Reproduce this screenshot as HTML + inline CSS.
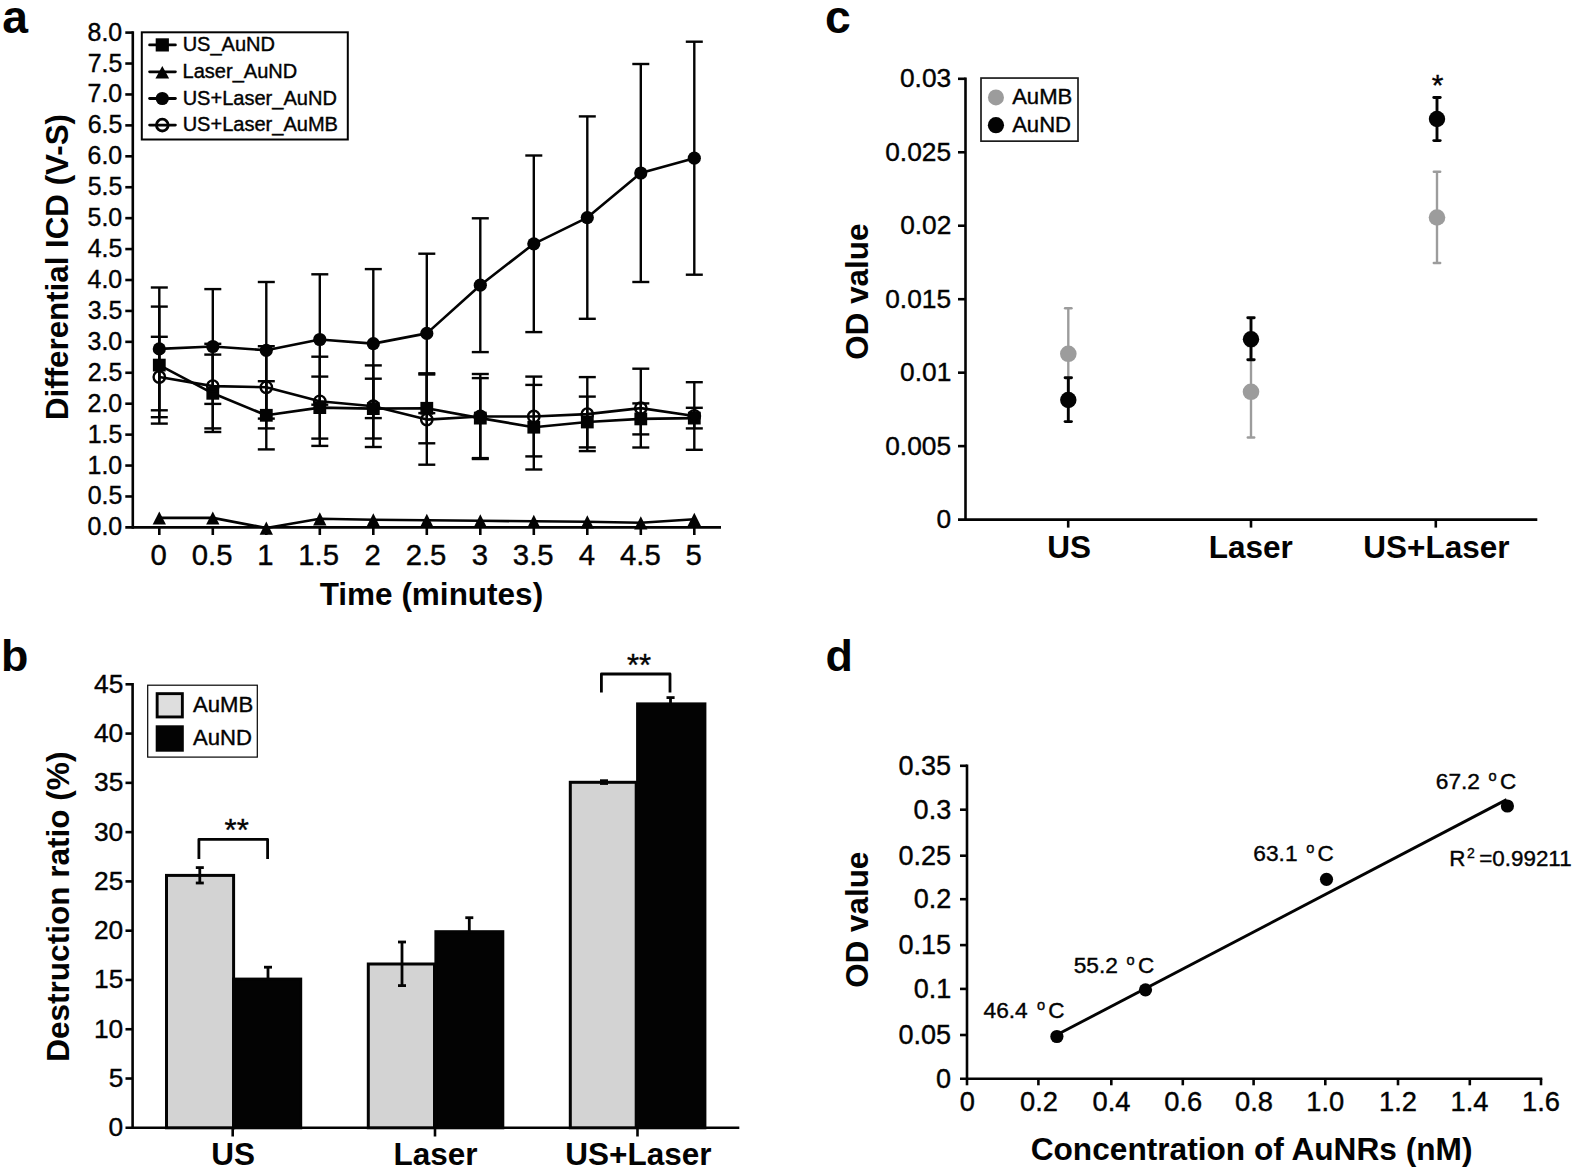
<!DOCTYPE html><html><head><meta charset="utf-8"><title>figure</title><style>html,body{margin:0;padding:0;background:#fff}svg{display:block}text{font-family:"Liberation Sans",Arial,Helvetica,sans-serif}</style></head><body>
<svg width="1575" height="1172" viewBox="0 0 1575 1172"><rect width="1575" height="1172" fill="#fff"/>
<text x="2.21" y="33.00" font-size="46.30" font-weight="bold" fill="#030303">a</text>
<line x1="132.80" y1="31.30" x2="132.80" y2="528.70" stroke="#030303" stroke-width="2.6" stroke-linecap="butt"/>
<line x1="125.30" y1="527.40" x2="721.00" y2="527.40" stroke="#030303" stroke-width="2.6" stroke-linecap="butt"/>
<text x="87.62" y="535.40" font-size="24.90" stroke="#030303" stroke-width="0.4" fill="#030303">0.0</text>
<line x1="125.30" y1="496.47" x2="132.80" y2="496.47" stroke="#030303" stroke-width="2.6" stroke-linecap="butt"/>
<text x="87.69" y="504.47" font-size="24.90" stroke="#030303" stroke-width="0.4" fill="#030303">0.5</text>
<line x1="125.30" y1="465.55" x2="132.80" y2="465.55" stroke="#030303" stroke-width="2.6" stroke-linecap="butt"/>
<text x="87.62" y="473.55" font-size="24.90" stroke="#030303" stroke-width="0.4" fill="#030303">1.0</text>
<line x1="125.30" y1="434.62" x2="132.80" y2="434.62" stroke="#030303" stroke-width="2.6" stroke-linecap="butt"/>
<text x="87.69" y="442.62" font-size="24.90" stroke="#030303" stroke-width="0.4" fill="#030303">1.5</text>
<line x1="125.30" y1="403.70" x2="132.80" y2="403.70" stroke="#030303" stroke-width="2.6" stroke-linecap="butt"/>
<text x="87.62" y="411.70" font-size="24.90" stroke="#030303" stroke-width="0.4" fill="#030303">2.0</text>
<line x1="125.30" y1="372.77" x2="132.80" y2="372.77" stroke="#030303" stroke-width="2.6" stroke-linecap="butt"/>
<text x="87.69" y="380.77" font-size="24.90" stroke="#030303" stroke-width="0.4" fill="#030303">2.5</text>
<line x1="125.30" y1="341.85" x2="132.80" y2="341.85" stroke="#030303" stroke-width="2.6" stroke-linecap="butt"/>
<text x="87.62" y="349.85" font-size="24.90" stroke="#030303" stroke-width="0.4" fill="#030303">3.0</text>
<line x1="125.30" y1="310.93" x2="132.80" y2="310.93" stroke="#030303" stroke-width="2.6" stroke-linecap="butt"/>
<text x="87.69" y="318.93" font-size="24.90" stroke="#030303" stroke-width="0.4" fill="#030303">3.5</text>
<line x1="125.30" y1="280.00" x2="132.80" y2="280.00" stroke="#030303" stroke-width="2.6" stroke-linecap="butt"/>
<text x="87.62" y="288.00" font-size="24.90" stroke="#030303" stroke-width="0.4" fill="#030303">4.0</text>
<line x1="125.30" y1="249.07" x2="132.80" y2="249.07" stroke="#030303" stroke-width="2.6" stroke-linecap="butt"/>
<text x="87.69" y="257.07" font-size="24.90" stroke="#030303" stroke-width="0.4" fill="#030303">4.5</text>
<line x1="125.30" y1="218.15" x2="132.80" y2="218.15" stroke="#030303" stroke-width="2.6" stroke-linecap="butt"/>
<text x="87.62" y="226.15" font-size="24.90" stroke="#030303" stroke-width="0.4" fill="#030303">5.0</text>
<line x1="125.30" y1="187.23" x2="132.80" y2="187.23" stroke="#030303" stroke-width="2.6" stroke-linecap="butt"/>
<text x="87.69" y="195.23" font-size="24.90" stroke="#030303" stroke-width="0.4" fill="#030303">5.5</text>
<line x1="125.30" y1="156.30" x2="132.80" y2="156.30" stroke="#030303" stroke-width="2.6" stroke-linecap="butt"/>
<text x="87.62" y="164.30" font-size="24.90" stroke="#030303" stroke-width="0.4" fill="#030303">6.0</text>
<line x1="125.30" y1="125.38" x2="132.80" y2="125.38" stroke="#030303" stroke-width="2.6" stroke-linecap="butt"/>
<text x="87.69" y="133.38" font-size="24.90" stroke="#030303" stroke-width="0.4" fill="#030303">6.5</text>
<line x1="125.30" y1="94.45" x2="132.80" y2="94.45" stroke="#030303" stroke-width="2.6" stroke-linecap="butt"/>
<text x="87.62" y="102.45" font-size="24.90" stroke="#030303" stroke-width="0.4" fill="#030303">7.0</text>
<line x1="125.30" y1="63.53" x2="132.80" y2="63.53" stroke="#030303" stroke-width="2.6" stroke-linecap="butt"/>
<text x="87.69" y="71.53" font-size="24.90" stroke="#030303" stroke-width="0.4" fill="#030303">7.5</text>
<line x1="125.30" y1="32.60" x2="132.80" y2="32.60" stroke="#030303" stroke-width="2.6" stroke-linecap="butt"/>
<text x="87.62" y="40.60" font-size="24.90" stroke="#030303" stroke-width="0.4" fill="#030303">8.0</text>
<line x1="159.30" y1="527.40" x2="159.30" y2="535.00" stroke="#030303" stroke-width="2.6" stroke-linecap="butt"/>
<text x="150.53" y="564.80" font-size="29.30" stroke="#030303" stroke-width="0.4" fill="#030303">0</text>
<line x1="212.80" y1="527.40" x2="212.80" y2="535.00" stroke="#030303" stroke-width="2.6" stroke-linecap="butt"/>
<text x="191.84" y="564.80" font-size="29.30" stroke="#030303" stroke-width="0.4" fill="#030303">0.5</text>
<line x1="266.30" y1="527.40" x2="266.30" y2="535.00" stroke="#030303" stroke-width="2.6" stroke-linecap="butt"/>
<text x="257.17" y="564.80" font-size="29.30" stroke="#030303" stroke-width="0.4" fill="#030303">1</text>
<line x1="319.80" y1="527.40" x2="319.80" y2="535.00" stroke="#030303" stroke-width="2.6" stroke-linecap="butt"/>
<text x="298.32" y="564.80" font-size="29.30" stroke="#030303" stroke-width="0.4" fill="#030303">1.5</text>
<line x1="373.30" y1="527.40" x2="373.30" y2="535.00" stroke="#030303" stroke-width="2.6" stroke-linecap="butt"/>
<text x="364.57" y="564.80" font-size="29.30" stroke="#030303" stroke-width="0.4" fill="#030303">2</text>
<line x1="426.80" y1="527.40" x2="426.80" y2="535.00" stroke="#030303" stroke-width="2.6" stroke-linecap="butt"/>
<text x="405.69" y="564.80" font-size="29.30" stroke="#030303" stroke-width="0.4" fill="#030303">2.5</text>
<line x1="480.30" y1="527.40" x2="480.30" y2="535.00" stroke="#030303" stroke-width="2.6" stroke-linecap="butt"/>
<text x="471.64" y="564.80" font-size="29.30" stroke="#030303" stroke-width="0.4" fill="#030303">3</text>
<line x1="533.80" y1="527.40" x2="533.80" y2="535.00" stroke="#030303" stroke-width="2.6" stroke-linecap="butt"/>
<text x="512.87" y="564.80" font-size="29.30" stroke="#030303" stroke-width="0.4" fill="#030303">3.5</text>
<line x1="587.30" y1="527.40" x2="587.30" y2="535.00" stroke="#030303" stroke-width="2.6" stroke-linecap="butt"/>
<text x="578.64" y="564.80" font-size="29.30" stroke="#030303" stroke-width="0.4" fill="#030303">4</text>
<line x1="640.80" y1="527.40" x2="640.80" y2="535.00" stroke="#030303" stroke-width="2.6" stroke-linecap="butt"/>
<text x="620.09" y="564.80" font-size="29.30" stroke="#030303" stroke-width="0.4" fill="#030303">4.5</text>
<line x1="694.30" y1="527.40" x2="694.30" y2="535.00" stroke="#030303" stroke-width="2.6" stroke-linecap="butt"/>
<text x="685.57" y="564.80" font-size="29.30" stroke="#030303" stroke-width="0.4" fill="#030303">5</text>
<text x="319.68" y="604.50" font-size="31.50" font-weight="bold" fill="#030303">Time (minutes)</text>
<text transform="translate(67.50,420.09) rotate(-90)" font-size="31.30" font-weight="bold" fill="#030303">Differential ICD (V-S)</text>
<rect x="141.8" y="32.3" width="206" height="107.2" fill="#fff" stroke="#030303" stroke-width="2.0"/>
<line x1="149.60" y1="44.90" x2="175.40" y2="44.90" stroke="#030303" stroke-width="2.8" stroke-linecap="round"/>
<text x="182.65" y="51.20" font-size="20.05" stroke="#030303" stroke-width="0.4" fill="#030303">US_AuND</text>
<line x1="149.60" y1="71.80" x2="175.40" y2="71.80" stroke="#030303" stroke-width="2.8" stroke-linecap="round"/>
<text x="182.55" y="78.10" font-size="20.05" stroke="#030303" stroke-width="0.4" fill="#030303">Laser_AuND</text>
<line x1="149.60" y1="98.50" x2="175.40" y2="98.50" stroke="#030303" stroke-width="2.8" stroke-linecap="round"/>
<text x="182.65" y="104.80" font-size="20.05" stroke="#030303" stroke-width="0.4" fill="#030303">US+Laser_AuND</text>
<line x1="149.60" y1="125.10" x2="175.40" y2="125.10" stroke="#030303" stroke-width="2.8" stroke-linecap="round"/>
<text x="182.65" y="131.40" font-size="20.05" stroke="#030303" stroke-width="0.4" fill="#030303">US+Laser_AuMB</text>
<rect x="155.70" y="38.30" width="13.2" height="13.2" fill="#030303"/>
<polygon points="162.30,65.90 169.15,78.50 155.45,78.50" fill="#030303"/>
<circle cx="162.30" cy="98.50" r="6.6" fill="#030303"/>
<circle cx="162.30" cy="125.10" r="5.9" fill="none" stroke="#030303" stroke-width="2.8"/>
<line x1="159.30" y1="287.50" x2="159.30" y2="410.30" stroke="#030303" stroke-width="2.4" stroke-linecap="butt"/>
<line x1="150.80" y1="287.50" x2="167.80" y2="287.50" stroke="#030303" stroke-width="2.4" stroke-linecap="butt"/>
<line x1="150.80" y1="410.30" x2="167.80" y2="410.30" stroke="#030303" stroke-width="2.4" stroke-linecap="butt"/>
<line x1="212.80" y1="289.10" x2="212.80" y2="403.90" stroke="#030303" stroke-width="2.4" stroke-linecap="butt"/>
<line x1="204.30" y1="289.10" x2="221.30" y2="289.10" stroke="#030303" stroke-width="2.4" stroke-linecap="butt"/>
<line x1="204.30" y1="403.90" x2="221.30" y2="403.90" stroke="#030303" stroke-width="2.4" stroke-linecap="butt"/>
<line x1="266.30" y1="282.00" x2="266.30" y2="418.60" stroke="#030303" stroke-width="2.4" stroke-linecap="butt"/>
<line x1="257.80" y1="282.00" x2="274.80" y2="282.00" stroke="#030303" stroke-width="2.4" stroke-linecap="butt"/>
<line x1="257.80" y1="418.60" x2="274.80" y2="418.60" stroke="#030303" stroke-width="2.4" stroke-linecap="butt"/>
<line x1="319.80" y1="274.30" x2="319.80" y2="404.70" stroke="#030303" stroke-width="2.4" stroke-linecap="butt"/>
<line x1="311.30" y1="274.30" x2="328.30" y2="274.30" stroke="#030303" stroke-width="2.4" stroke-linecap="butt"/>
<line x1="311.30" y1="404.70" x2="328.30" y2="404.70" stroke="#030303" stroke-width="2.4" stroke-linecap="butt"/>
<line x1="373.30" y1="269.10" x2="373.30" y2="418.10" stroke="#030303" stroke-width="2.4" stroke-linecap="butt"/>
<line x1="364.80" y1="269.10" x2="381.80" y2="269.10" stroke="#030303" stroke-width="2.4" stroke-linecap="butt"/>
<line x1="364.80" y1="418.10" x2="381.80" y2="418.10" stroke="#030303" stroke-width="2.4" stroke-linecap="butt"/>
<line x1="426.80" y1="253.70" x2="426.80" y2="413.10" stroke="#030303" stroke-width="2.4" stroke-linecap="butt"/>
<line x1="418.30" y1="253.70" x2="435.30" y2="253.70" stroke="#030303" stroke-width="2.4" stroke-linecap="butt"/>
<line x1="418.30" y1="413.10" x2="435.30" y2="413.10" stroke="#030303" stroke-width="2.4" stroke-linecap="butt"/>
<line x1="480.30" y1="218.30" x2="480.30" y2="352.10" stroke="#030303" stroke-width="2.4" stroke-linecap="butt"/>
<line x1="471.80" y1="218.30" x2="488.80" y2="218.30" stroke="#030303" stroke-width="2.4" stroke-linecap="butt"/>
<line x1="471.80" y1="352.10" x2="488.80" y2="352.10" stroke="#030303" stroke-width="2.4" stroke-linecap="butt"/>
<line x1="533.80" y1="155.50" x2="533.80" y2="332.10" stroke="#030303" stroke-width="2.4" stroke-linecap="butt"/>
<line x1="525.30" y1="155.50" x2="542.30" y2="155.50" stroke="#030303" stroke-width="2.4" stroke-linecap="butt"/>
<line x1="525.30" y1="332.10" x2="542.30" y2="332.10" stroke="#030303" stroke-width="2.4" stroke-linecap="butt"/>
<line x1="587.30" y1="116.40" x2="587.30" y2="318.80" stroke="#030303" stroke-width="2.4" stroke-linecap="butt"/>
<line x1="578.80" y1="116.40" x2="595.80" y2="116.40" stroke="#030303" stroke-width="2.4" stroke-linecap="butt"/>
<line x1="578.80" y1="318.80" x2="595.80" y2="318.80" stroke="#030303" stroke-width="2.4" stroke-linecap="butt"/>
<line x1="640.80" y1="64.00" x2="640.80" y2="282.00" stroke="#030303" stroke-width="2.4" stroke-linecap="butt"/>
<line x1="632.30" y1="64.00" x2="649.30" y2="64.00" stroke="#030303" stroke-width="2.4" stroke-linecap="butt"/>
<line x1="632.30" y1="282.00" x2="649.30" y2="282.00" stroke="#030303" stroke-width="2.4" stroke-linecap="butt"/>
<line x1="694.30" y1="41.70" x2="694.30" y2="274.70" stroke="#030303" stroke-width="2.4" stroke-linecap="butt"/>
<line x1="685.80" y1="41.70" x2="702.80" y2="41.70" stroke="#030303" stroke-width="2.4" stroke-linecap="butt"/>
<line x1="685.80" y1="274.70" x2="702.80" y2="274.70" stroke="#030303" stroke-width="2.4" stroke-linecap="butt"/>
<line x1="159.30" y1="306.60" x2="159.30" y2="423.60" stroke="#030303" stroke-width="2.4" stroke-linecap="butt"/>
<line x1="150.80" y1="306.60" x2="167.80" y2="306.60" stroke="#030303" stroke-width="2.4" stroke-linecap="butt"/>
<line x1="150.80" y1="423.60" x2="167.80" y2="423.60" stroke="#030303" stroke-width="2.4" stroke-linecap="butt"/>
<line x1="212.80" y1="354.60" x2="212.80" y2="432.00" stroke="#030303" stroke-width="2.4" stroke-linecap="butt"/>
<line x1="204.30" y1="354.60" x2="221.30" y2="354.60" stroke="#030303" stroke-width="2.4" stroke-linecap="butt"/>
<line x1="204.30" y1="432.00" x2="221.30" y2="432.00" stroke="#030303" stroke-width="2.4" stroke-linecap="butt"/>
<line x1="266.30" y1="381.20" x2="266.30" y2="449.40" stroke="#030303" stroke-width="2.4" stroke-linecap="butt"/>
<line x1="257.80" y1="381.20" x2="274.80" y2="381.20" stroke="#030303" stroke-width="2.4" stroke-linecap="butt"/>
<line x1="257.80" y1="449.40" x2="274.80" y2="449.40" stroke="#030303" stroke-width="2.4" stroke-linecap="butt"/>
<line x1="319.80" y1="376.60" x2="319.80" y2="438.60" stroke="#030303" stroke-width="2.4" stroke-linecap="butt"/>
<line x1="311.30" y1="376.60" x2="328.30" y2="376.60" stroke="#030303" stroke-width="2.4" stroke-linecap="butt"/>
<line x1="311.30" y1="438.60" x2="328.30" y2="438.60" stroke="#030303" stroke-width="2.4" stroke-linecap="butt"/>
<line x1="373.30" y1="378.70" x2="373.30" y2="438.50" stroke="#030303" stroke-width="2.4" stroke-linecap="butt"/>
<line x1="364.80" y1="378.70" x2="381.80" y2="378.70" stroke="#030303" stroke-width="2.4" stroke-linecap="butt"/>
<line x1="364.80" y1="438.50" x2="381.80" y2="438.50" stroke="#030303" stroke-width="2.4" stroke-linecap="butt"/>
<line x1="426.80" y1="373.30" x2="426.80" y2="443.30" stroke="#030303" stroke-width="2.4" stroke-linecap="butt"/>
<line x1="418.30" y1="373.30" x2="435.30" y2="373.30" stroke="#030303" stroke-width="2.4" stroke-linecap="butt"/>
<line x1="418.30" y1="443.30" x2="435.30" y2="443.30" stroke="#030303" stroke-width="2.4" stroke-linecap="butt"/>
<line x1="480.30" y1="378.10" x2="480.30" y2="458.10" stroke="#030303" stroke-width="2.4" stroke-linecap="butt"/>
<line x1="471.80" y1="378.10" x2="488.80" y2="378.10" stroke="#030303" stroke-width="2.4" stroke-linecap="butt"/>
<line x1="471.80" y1="458.10" x2="488.80" y2="458.10" stroke="#030303" stroke-width="2.4" stroke-linecap="butt"/>
<line x1="533.80" y1="384.90" x2="533.80" y2="469.50" stroke="#030303" stroke-width="2.4" stroke-linecap="butt"/>
<line x1="525.30" y1="384.90" x2="542.30" y2="384.90" stroke="#030303" stroke-width="2.4" stroke-linecap="butt"/>
<line x1="525.30" y1="469.50" x2="542.30" y2="469.50" stroke="#030303" stroke-width="2.4" stroke-linecap="butt"/>
<line x1="587.30" y1="396.60" x2="587.30" y2="447.40" stroke="#030303" stroke-width="2.4" stroke-linecap="butt"/>
<line x1="578.80" y1="396.60" x2="595.80" y2="396.60" stroke="#030303" stroke-width="2.4" stroke-linecap="butt"/>
<line x1="578.80" y1="447.40" x2="595.80" y2="447.40" stroke="#030303" stroke-width="2.4" stroke-linecap="butt"/>
<line x1="640.80" y1="403.40" x2="640.80" y2="434.40" stroke="#030303" stroke-width="2.4" stroke-linecap="butt"/>
<line x1="632.30" y1="403.40" x2="649.30" y2="403.40" stroke="#030303" stroke-width="2.4" stroke-linecap="butt"/>
<line x1="632.30" y1="434.40" x2="649.30" y2="434.40" stroke="#030303" stroke-width="2.4" stroke-linecap="butt"/>
<line x1="694.30" y1="407.80" x2="694.30" y2="428.40" stroke="#030303" stroke-width="2.4" stroke-linecap="butt"/>
<line x1="685.80" y1="407.80" x2="702.80" y2="407.80" stroke="#030303" stroke-width="2.4" stroke-linecap="butt"/>
<line x1="685.80" y1="428.40" x2="702.80" y2="428.40" stroke="#030303" stroke-width="2.4" stroke-linecap="butt"/>
<line x1="159.30" y1="336.80" x2="159.30" y2="417.20" stroke="#030303" stroke-width="2.4" stroke-linecap="butt"/>
<line x1="150.80" y1="336.80" x2="167.80" y2="336.80" stroke="#030303" stroke-width="2.4" stroke-linecap="butt"/>
<line x1="150.80" y1="417.20" x2="167.80" y2="417.20" stroke="#030303" stroke-width="2.4" stroke-linecap="butt"/>
<line x1="212.80" y1="343.80" x2="212.80" y2="428.40" stroke="#030303" stroke-width="2.4" stroke-linecap="butt"/>
<line x1="204.30" y1="343.80" x2="221.30" y2="343.80" stroke="#030303" stroke-width="2.4" stroke-linecap="butt"/>
<line x1="204.30" y1="428.40" x2="221.30" y2="428.40" stroke="#030303" stroke-width="2.4" stroke-linecap="butt"/>
<line x1="266.30" y1="346.20" x2="266.30" y2="428.40" stroke="#030303" stroke-width="2.4" stroke-linecap="butt"/>
<line x1="257.80" y1="346.20" x2="274.80" y2="346.20" stroke="#030303" stroke-width="2.4" stroke-linecap="butt"/>
<line x1="257.80" y1="428.40" x2="274.80" y2="428.40" stroke="#030303" stroke-width="2.4" stroke-linecap="butt"/>
<line x1="319.80" y1="356.70" x2="319.80" y2="445.90" stroke="#030303" stroke-width="2.4" stroke-linecap="butt"/>
<line x1="311.30" y1="356.70" x2="328.30" y2="356.70" stroke="#030303" stroke-width="2.4" stroke-linecap="butt"/>
<line x1="311.30" y1="445.90" x2="328.30" y2="445.90" stroke="#030303" stroke-width="2.4" stroke-linecap="butt"/>
<line x1="373.30" y1="365.40" x2="373.30" y2="447.00" stroke="#030303" stroke-width="2.4" stroke-linecap="butt"/>
<line x1="364.80" y1="365.40" x2="381.80" y2="365.40" stroke="#030303" stroke-width="2.4" stroke-linecap="butt"/>
<line x1="364.80" y1="447.00" x2="381.80" y2="447.00" stroke="#030303" stroke-width="2.4" stroke-linecap="butt"/>
<line x1="426.80" y1="374.50" x2="426.80" y2="464.70" stroke="#030303" stroke-width="2.4" stroke-linecap="butt"/>
<line x1="418.30" y1="374.50" x2="435.30" y2="374.50" stroke="#030303" stroke-width="2.4" stroke-linecap="butt"/>
<line x1="418.30" y1="464.70" x2="435.30" y2="464.70" stroke="#030303" stroke-width="2.4" stroke-linecap="butt"/>
<line x1="480.30" y1="374.00" x2="480.30" y2="459.00" stroke="#030303" stroke-width="2.4" stroke-linecap="butt"/>
<line x1="471.80" y1="374.00" x2="488.80" y2="374.00" stroke="#030303" stroke-width="2.4" stroke-linecap="butt"/>
<line x1="471.80" y1="459.00" x2="488.80" y2="459.00" stroke="#030303" stroke-width="2.4" stroke-linecap="butt"/>
<line x1="533.80" y1="376.60" x2="533.80" y2="456.40" stroke="#030303" stroke-width="2.4" stroke-linecap="butt"/>
<line x1="525.30" y1="376.60" x2="542.30" y2="376.60" stroke="#030303" stroke-width="2.4" stroke-linecap="butt"/>
<line x1="525.30" y1="456.40" x2="542.30" y2="456.40" stroke="#030303" stroke-width="2.4" stroke-linecap="butt"/>
<line x1="587.30" y1="377.10" x2="587.30" y2="451.10" stroke="#030303" stroke-width="2.4" stroke-linecap="butt"/>
<line x1="578.80" y1="377.10" x2="595.80" y2="377.10" stroke="#030303" stroke-width="2.4" stroke-linecap="butt"/>
<line x1="578.80" y1="451.10" x2="595.80" y2="451.10" stroke="#030303" stroke-width="2.4" stroke-linecap="butt"/>
<line x1="640.80" y1="368.70" x2="640.80" y2="447.50" stroke="#030303" stroke-width="2.4" stroke-linecap="butt"/>
<line x1="632.30" y1="368.70" x2="649.30" y2="368.70" stroke="#030303" stroke-width="2.4" stroke-linecap="butt"/>
<line x1="632.30" y1="447.50" x2="649.30" y2="447.50" stroke="#030303" stroke-width="2.4" stroke-linecap="butt"/>
<line x1="694.30" y1="382.20" x2="694.30" y2="449.80" stroke="#030303" stroke-width="2.4" stroke-linecap="butt"/>
<line x1="685.80" y1="382.20" x2="702.80" y2="382.20" stroke="#030303" stroke-width="2.4" stroke-linecap="butt"/>
<line x1="685.80" y1="449.80" x2="702.80" y2="449.80" stroke="#030303" stroke-width="2.4" stroke-linecap="butt"/>
<polyline points="159.3,517.9 212.8,517.9 266.3,528.0 319.8,518.7 373.3,519.7 426.8,520.3 480.3,520.8 533.8,521.3 587.3,521.7 640.8,522.8 694.3,519.2" fill="none" stroke="#030303" stroke-width="2.6" stroke-linejoin="round"/>
<polyline points="159.3,365.1 212.8,393.3 266.3,415.3 319.8,407.6 373.3,408.6 426.8,408.3 480.3,418.1 533.8,427.2 587.3,422.0 640.8,418.9 694.3,418.1" fill="none" stroke="#030303" stroke-width="2.6" stroke-linejoin="round"/>
<polyline points="159.3,377.0 212.8,386.1 266.3,387.3 319.8,401.3 373.3,406.2 426.8,419.6 480.3,416.5 533.8,416.5 587.3,414.1 640.8,408.1 694.3,416.0" fill="none" stroke="#030303" stroke-width="2.6" stroke-linejoin="round"/>
<polyline points="159.3,348.9 212.8,346.5 266.3,350.3 319.8,339.5 373.3,343.6 426.8,333.4 480.3,285.2 533.8,243.8 587.3,217.6 640.8,173.0 694.3,158.2" fill="none" stroke="#030303" stroke-width="2.6" stroke-linejoin="round"/>
<polygon points="159.30,511.41 165.95,524.61 152.65,524.61" fill="#030303"/>
<polygon points="212.80,511.41 219.45,524.61 206.15,524.61" fill="#030303"/>
<polygon points="266.30,521.51 272.95,534.71 259.65,534.71" fill="#030303"/>
<polygon points="319.80,512.21 326.45,525.41 313.15,525.41" fill="#030303"/>
<polygon points="373.30,513.21 379.95,526.41 366.65,526.41" fill="#030303"/>
<polygon points="426.80,513.81 433.45,527.01 420.15,527.01" fill="#030303"/>
<polygon points="480.30,514.31 486.95,527.51 473.65,527.51" fill="#030303"/>
<polygon points="533.80,514.81 540.45,528.01 527.15,528.01" fill="#030303"/>
<polygon points="587.30,515.21 593.95,528.41 580.65,528.41" fill="#030303"/>
<polygon points="640.80,516.31 647.45,529.51 634.15,529.51" fill="#030303"/>
<polygon points="694.30,512.71 700.95,525.91 687.65,525.91" fill="#030303"/>
<rect x="152.90" y="358.70" width="12.8" height="12.8" fill="#030303"/>
<rect x="206.40" y="386.90" width="12.8" height="12.8" fill="#030303"/>
<rect x="259.90" y="408.90" width="12.8" height="12.8" fill="#030303"/>
<rect x="313.40" y="401.20" width="12.8" height="12.8" fill="#030303"/>
<rect x="366.90" y="402.20" width="12.8" height="12.8" fill="#030303"/>
<rect x="420.40" y="401.90" width="12.8" height="12.8" fill="#030303"/>
<rect x="473.90" y="411.70" width="12.8" height="12.8" fill="#030303"/>
<rect x="527.40" y="420.80" width="12.8" height="12.8" fill="#030303"/>
<rect x="580.90" y="415.60" width="12.8" height="12.8" fill="#030303"/>
<rect x="634.40" y="412.50" width="12.8" height="12.8" fill="#030303"/>
<rect x="687.90" y="411.70" width="12.8" height="12.8" fill="#030303"/>
<circle cx="159.30" cy="377.00" r="5.7" fill="none" stroke="#030303" stroke-width="2.4"/>
<circle cx="212.80" cy="386.10" r="5.7" fill="none" stroke="#030303" stroke-width="2.4"/>
<circle cx="266.30" cy="387.30" r="5.7" fill="none" stroke="#030303" stroke-width="2.4"/>
<circle cx="319.80" cy="401.30" r="5.7" fill="none" stroke="#030303" stroke-width="2.4"/>
<circle cx="373.30" cy="406.20" r="5.7" fill="none" stroke="#030303" stroke-width="2.4"/>
<circle cx="426.80" cy="419.60" r="5.7" fill="none" stroke="#030303" stroke-width="2.4"/>
<circle cx="480.30" cy="416.50" r="5.7" fill="none" stroke="#030303" stroke-width="2.4"/>
<circle cx="533.80" cy="416.50" r="5.7" fill="none" stroke="#030303" stroke-width="2.4"/>
<circle cx="587.30" cy="414.10" r="5.7" fill="none" stroke="#030303" stroke-width="2.4"/>
<circle cx="640.80" cy="408.10" r="5.7" fill="none" stroke="#030303" stroke-width="2.4"/>
<circle cx="694.30" cy="416.00" r="5.7" fill="none" stroke="#030303" stroke-width="2.4"/>
<circle cx="159.30" cy="348.90" r="6.6" fill="#030303"/>
<circle cx="212.80" cy="346.50" r="6.6" fill="#030303"/>
<circle cx="266.30" cy="350.30" r="6.6" fill="#030303"/>
<circle cx="319.80" cy="339.50" r="6.6" fill="#030303"/>
<circle cx="373.30" cy="343.60" r="6.6" fill="#030303"/>
<circle cx="426.80" cy="333.40" r="6.6" fill="#030303"/>
<circle cx="480.30" cy="285.20" r="6.6" fill="#030303"/>
<circle cx="533.80" cy="243.80" r="6.6" fill="#030303"/>
<circle cx="587.30" cy="217.60" r="6.6" fill="#030303"/>
<circle cx="640.80" cy="173.00" r="6.6" fill="#030303"/>
<circle cx="694.30" cy="158.20" r="6.6" fill="#030303"/>
<text x="0.99" y="670.50" font-size="44.80" font-weight="bold" fill="#030303">b</text>
<line x1="132.60" y1="683.00" x2="132.60" y2="1129.10" stroke="#030303" stroke-width="2.6" stroke-linecap="butt"/>
<line x1="125.50" y1="1127.80" x2="739.30" y2="1127.80" stroke="#030303" stroke-width="2.6" stroke-linecap="butt"/>
<text x="108.59" y="1136.30" font-size="26.30" stroke="#030303" stroke-width="0.4" fill="#030303">0</text>
<line x1="125.50" y1="1078.52" x2="132.60" y2="1078.52" stroke="#030303" stroke-width="2.6" stroke-linecap="butt"/>
<text x="108.66" y="1087.02" font-size="26.30" stroke="#030303" stroke-width="0.4" fill="#030303">5</text>
<line x1="125.50" y1="1029.24" x2="132.60" y2="1029.24" stroke="#030303" stroke-width="2.6" stroke-linecap="butt"/>
<text x="93.99" y="1037.74" font-size="26.30" stroke="#030303" stroke-width="0.4" fill="#030303">10</text>
<line x1="125.50" y1="979.97" x2="132.60" y2="979.97" stroke="#030303" stroke-width="2.6" stroke-linecap="butt"/>
<text x="94.06" y="988.47" font-size="26.30" stroke="#030303" stroke-width="0.4" fill="#030303">15</text>
<line x1="125.50" y1="930.69" x2="132.60" y2="930.69" stroke="#030303" stroke-width="2.6" stroke-linecap="butt"/>
<text x="93.99" y="939.19" font-size="26.30" stroke="#030303" stroke-width="0.4" fill="#030303">20</text>
<line x1="125.50" y1="881.41" x2="132.60" y2="881.41" stroke="#030303" stroke-width="2.6" stroke-linecap="butt"/>
<text x="94.06" y="889.91" font-size="26.30" stroke="#030303" stroke-width="0.4" fill="#030303">25</text>
<line x1="125.50" y1="832.13" x2="132.60" y2="832.13" stroke="#030303" stroke-width="2.6" stroke-linecap="butt"/>
<text x="93.99" y="840.63" font-size="26.30" stroke="#030303" stroke-width="0.4" fill="#030303">30</text>
<line x1="125.50" y1="782.86" x2="132.60" y2="782.86" stroke="#030303" stroke-width="2.6" stroke-linecap="butt"/>
<text x="94.06" y="791.36" font-size="26.30" stroke="#030303" stroke-width="0.4" fill="#030303">35</text>
<line x1="125.50" y1="733.58" x2="132.60" y2="733.58" stroke="#030303" stroke-width="2.6" stroke-linecap="butt"/>
<text x="93.99" y="742.08" font-size="26.30" stroke="#030303" stroke-width="0.4" fill="#030303">40</text>
<line x1="125.50" y1="684.30" x2="132.60" y2="684.30" stroke="#030303" stroke-width="2.6" stroke-linecap="butt"/>
<text x="94.06" y="692.80" font-size="26.30" stroke="#030303" stroke-width="0.4" fill="#030303">45</text>
<rect x="166.50" y="875.40" width="67.10" height="252.40" fill="#d3d3d3" stroke="#030303" stroke-width="3.0"/>
<rect x="368.30" y="964.00" width="66.20" height="163.80" fill="#d3d3d3" stroke="#030303" stroke-width="3.0"/>
<rect x="570.30" y="782.30" width="65.90" height="345.50" fill="#d3d3d3" stroke="#030303" stroke-width="3.0"/>
<rect x="233.60" y="979.10" width="67.10" height="148.70" fill="#030303" stroke="#030303" stroke-width="3.0"/>
<rect x="435.90" y="931.70" width="66.90" height="196.10" fill="#030303" stroke="#030303" stroke-width="3.0"/>
<rect x="637.60" y="703.90" width="67.30" height="423.90" fill="#030303" stroke="#030303" stroke-width="3.0"/>
<line x1="199.80" y1="867.60" x2="199.80" y2="883.00" stroke="#030303" stroke-width="2.8" stroke-linecap="butt"/>
<line x1="195.80" y1="867.60" x2="203.80" y2="867.60" stroke="#030303" stroke-width="2.8" stroke-linecap="butt"/>
<line x1="195.80" y1="883.00" x2="203.80" y2="883.00" stroke="#030303" stroke-width="2.8" stroke-linecap="butt"/>
<line x1="268.00" y1="967.00" x2="268.00" y2="978.00" stroke="#030303" stroke-width="2.8" stroke-linecap="butt"/>
<line x1="264.00" y1="967.20" x2="272.00" y2="967.20" stroke="#030303" stroke-width="2.8" stroke-linecap="butt"/>
<line x1="402.00" y1="942.00" x2="402.00" y2="985.60" stroke="#030303" stroke-width="2.8" stroke-linecap="butt"/>
<line x1="398.00" y1="942.00" x2="406.00" y2="942.00" stroke="#030303" stroke-width="2.8" stroke-linecap="butt"/>
<line x1="398.00" y1="985.60" x2="406.00" y2="985.60" stroke="#030303" stroke-width="2.8" stroke-linecap="butt"/>
<line x1="469.30" y1="917.50" x2="469.30" y2="931.00" stroke="#030303" stroke-width="2.8" stroke-linecap="butt"/>
<line x1="465.30" y1="917.70" x2="473.30" y2="917.70" stroke="#030303" stroke-width="2.8" stroke-linecap="butt"/>
<rect x="600" y="779.3" width="8" height="5.6" fill="#030303"/>
<line x1="670.50" y1="697.40" x2="670.50" y2="703.00" stroke="#030303" stroke-width="2.8" stroke-linecap="butt"/>
<line x1="666.50" y1="697.60" x2="674.60" y2="697.60" stroke="#030303" stroke-width="2.8" stroke-linecap="butt"/>
<line x1="232.70" y1="1127.80" x2="232.70" y2="1136.50" stroke="#030303" stroke-width="2.6" stroke-linecap="butt"/>
<line x1="435.00" y1="1127.80" x2="435.00" y2="1136.50" stroke="#030303" stroke-width="2.6" stroke-linecap="butt"/>
<line x1="637.50" y1="1127.80" x2="637.50" y2="1136.50" stroke="#030303" stroke-width="2.6" stroke-linecap="butt"/>
<text x="211.19" y="1165.20" font-size="31.50" font-weight="bold" fill="#030303">US</text>
<text x="393.42" y="1165.20" font-size="31.50" font-weight="bold" fill="#030303">Laser</text>
<text x="565.27" y="1165.20" font-size="31.50" font-weight="bold" fill="#030303">US+Laser</text>
<text transform="translate(68.50,1061.82) rotate(-90)" font-size="31.55" font-weight="bold" fill="#030303">Destruction ratio (%)</text>
<rect x="147.7" y="685.2" width="109.6" height="71.9" fill="#fff" stroke="#030303" stroke-width="1.2"/>
<rect x="157.15" y="693.65" width="25.2" height="23.3" fill="#dedede" stroke="#030303" stroke-width="2.9"/>
<rect x="155.7" y="725.3" width="28.1" height="26.4" fill="#030303"/>
<text x="193.04" y="711.70" font-size="22.10" stroke="#030303" stroke-width="0.4" fill="#030303">AuMB</text>
<text x="193.04" y="744.80" font-size="22.10" stroke="#030303" stroke-width="0.4" fill="#030303">AuND</text>
<polyline points="198.9,858.9 198.9,839.3 267.6,839.3 267.6,858.9" fill="none" stroke="#030303" stroke-width="2.8" stroke-linejoin="round"/>
<text x="224.61" y="841.00" font-size="31.00" stroke="#030303" stroke-width="0.4" fill="#030303">**</text>
<polyline points="601.4,692.6 601.4,674 670,674 670,692.6" fill="none" stroke="#030303" stroke-width="2.8" stroke-linejoin="round"/>
<text x="627.01" y="675.50" font-size="31.00" stroke="#030303" stroke-width="0.4" fill="#030303">**</text>
<text x="825.05" y="33.00" font-size="46.30" font-weight="bold" fill="#030303">c</text>
<line x1="965.50" y1="77.50" x2="965.50" y2="520.90" stroke="#030303" stroke-width="2.6" stroke-linecap="butt"/>
<line x1="958.00" y1="519.60" x2="1537.30" y2="519.60" stroke="#030303" stroke-width="2.6" stroke-linecap="butt"/>
<text x="936.39" y="528.10" font-size="26.30" stroke="#030303" stroke-width="0.4" fill="#030303">0</text>
<line x1="958.00" y1="446.13" x2="965.50" y2="446.13" stroke="#030303" stroke-width="2.6" stroke-linecap="butt"/>
<text x="885.24" y="454.63" font-size="26.30" stroke="#030303" stroke-width="0.4" fill="#030303">0.005</text>
<line x1="958.00" y1="372.67" x2="965.50" y2="372.67" stroke="#030303" stroke-width="2.6" stroke-linecap="butt"/>
<text x="900.10" y="381.17" font-size="26.30" stroke="#030303" stroke-width="0.4" fill="#030303">0.01</text>
<line x1="958.00" y1="299.20" x2="965.50" y2="299.20" stroke="#030303" stroke-width="2.6" stroke-linecap="butt"/>
<text x="885.24" y="307.70" font-size="26.30" stroke="#030303" stroke-width="0.4" fill="#030303">0.015</text>
<line x1="958.00" y1="225.73" x2="965.50" y2="225.73" stroke="#030303" stroke-width="2.6" stroke-linecap="butt"/>
<text x="900.16" y="234.23" font-size="26.30" stroke="#030303" stroke-width="0.4" fill="#030303">0.02</text>
<line x1="958.00" y1="152.27" x2="965.50" y2="152.27" stroke="#030303" stroke-width="2.6" stroke-linecap="butt"/>
<text x="885.24" y="160.77" font-size="26.30" stroke="#030303" stroke-width="0.4" fill="#030303">0.025</text>
<line x1="958.00" y1="78.80" x2="965.50" y2="78.80" stroke="#030303" stroke-width="2.6" stroke-linecap="butt"/>
<text x="899.96" y="87.30" font-size="26.30" stroke="#030303" stroke-width="0.4" fill="#030303">0.03</text>
<line x1="1068.20" y1="519.60" x2="1068.20" y2="527.60" stroke="#030303" stroke-width="2.6" stroke-linecap="butt"/>
<line x1="1251.00" y1="519.60" x2="1251.00" y2="527.60" stroke="#030303" stroke-width="2.6" stroke-linecap="butt"/>
<line x1="1435.80" y1="519.60" x2="1435.80" y2="527.60" stroke="#030303" stroke-width="2.6" stroke-linecap="butt"/>
<text x="1047.19" y="557.90" font-size="31.50" font-weight="bold" fill="#030303">US</text>
<text x="1208.72" y="557.90" font-size="31.50" font-weight="bold" fill="#030303">Laser</text>
<text x="1363.27" y="557.90" font-size="31.50" font-weight="bold" fill="#030303">US+Laser</text>
<text transform="translate(868.00,359.68) rotate(-90)" font-size="31.40" font-weight="bold" fill="#030303">OD value</text>
<rect x="981" y="78.05" width="97" height="63.1" fill="#fff" stroke="#1c1c1c" stroke-width="1.7"/>
<circle cx="995.95" cy="97.40" r="8.0" fill="#9c9c9c"/>
<circle cx="995.95" cy="125.20" r="8.1" fill="#030303"/>
<text x="1012.14" y="103.70" font-size="22.10" stroke="#030303" stroke-width="0.4" fill="#030303">AuMB</text>
<text x="1012.14" y="131.70" font-size="22.10" stroke="#030303" stroke-width="0.4" fill="#030303">AuND</text>
<line x1="1068.30" y1="308.30" x2="1068.30" y2="399.20" stroke="#9c9c9c" stroke-width="2.4" stroke-linecap="butt"/>
<line x1="1065.10" y1="308.30" x2="1071.50" y2="308.30" stroke="#9c9c9c" stroke-width="2.4" stroke-linecap="round"/>
<line x1="1065.10" y1="399.20" x2="1071.50" y2="399.20" stroke="#9c9c9c" stroke-width="2.4" stroke-linecap="round"/>
<circle cx="1068.30" cy="353.80" r="8.3" fill="#9c9c9c"/>
<line x1="1068.30" y1="377.80" x2="1068.30" y2="421.60" stroke="#030303" stroke-width="2.9" stroke-linecap="butt"/>
<line x1="1065.10" y1="377.80" x2="1071.50" y2="377.80" stroke="#030303" stroke-width="2.9" stroke-linecap="round"/>
<line x1="1065.10" y1="421.60" x2="1071.50" y2="421.60" stroke="#030303" stroke-width="2.9" stroke-linecap="round"/>
<circle cx="1068.30" cy="400.00" r="8.2" fill="#030303"/>
<line x1="1251.00" y1="346.00" x2="1251.00" y2="437.50" stroke="#9c9c9c" stroke-width="2.4" stroke-linecap="butt"/>
<line x1="1247.80" y1="346.00" x2="1254.20" y2="346.00" stroke="#9c9c9c" stroke-width="2.4" stroke-linecap="round"/>
<line x1="1247.80" y1="437.50" x2="1254.20" y2="437.50" stroke="#9c9c9c" stroke-width="2.4" stroke-linecap="round"/>
<circle cx="1251.00" cy="391.80" r="8.3" fill="#9c9c9c"/>
<line x1="1251.00" y1="317.80" x2="1251.00" y2="359.80" stroke="#030303" stroke-width="2.9" stroke-linecap="butt"/>
<line x1="1247.80" y1="317.80" x2="1254.20" y2="317.80" stroke="#030303" stroke-width="2.9" stroke-linecap="round"/>
<line x1="1247.80" y1="359.80" x2="1254.20" y2="359.80" stroke="#030303" stroke-width="2.9" stroke-linecap="round"/>
<circle cx="1251.00" cy="339.30" r="8.2" fill="#030303"/>
<line x1="1437.00" y1="171.80" x2="1437.00" y2="263.00" stroke="#9c9c9c" stroke-width="2.4" stroke-linecap="butt"/>
<line x1="1433.80" y1="171.80" x2="1440.20" y2="171.80" stroke="#9c9c9c" stroke-width="2.4" stroke-linecap="round"/>
<line x1="1433.80" y1="263.00" x2="1440.20" y2="263.00" stroke="#9c9c9c" stroke-width="2.4" stroke-linecap="round"/>
<circle cx="1437.00" cy="217.50" r="8.3" fill="#9c9c9c"/>
<line x1="1437.00" y1="97.50" x2="1437.00" y2="140.60" stroke="#030303" stroke-width="2.9" stroke-linecap="butt"/>
<line x1="1433.80" y1="97.50" x2="1440.20" y2="97.50" stroke="#030303" stroke-width="2.9" stroke-linecap="round"/>
<line x1="1433.80" y1="140.60" x2="1440.20" y2="140.60" stroke="#030303" stroke-width="2.9" stroke-linecap="round"/>
<circle cx="1437.00" cy="119.00" r="8.2" fill="#030303"/>
<text x="1431.75" y="94.80" font-size="30.00" stroke="#030303" stroke-width="0.4" fill="#030303">*</text>
<text x="825.41" y="670.50" font-size="44.80" font-weight="bold" fill="#030303">d</text>
<line x1="967.00" y1="764.50" x2="967.00" y2="1080.10" stroke="#030303" stroke-width="2.6" stroke-linecap="butt"/>
<line x1="960.00" y1="1078.80" x2="1542.30" y2="1078.80" stroke="#030303" stroke-width="2.6" stroke-linecap="butt"/>
<text x="936.03" y="1087.60" font-size="27.00" stroke="#030303" stroke-width="0.4" fill="#030303">0</text>
<line x1="960.00" y1="1035.00" x2="967.00" y2="1035.00" stroke="#030303" stroke-width="2.6" stroke-linecap="butt"/>
<text x="898.57" y="1043.80" font-size="27.00" stroke="#030303" stroke-width="0.4" fill="#030303">0.05</text>
<line x1="960.00" y1="988.90" x2="967.00" y2="988.90" stroke="#030303" stroke-width="2.6" stroke-linecap="butt"/>
<text x="913.75" y="997.70" font-size="27.00" stroke="#030303" stroke-width="0.4" fill="#030303">0.1</text>
<line x1="960.00" y1="945.10" x2="967.00" y2="945.10" stroke="#030303" stroke-width="2.6" stroke-linecap="butt"/>
<text x="898.57" y="953.90" font-size="27.00" stroke="#030303" stroke-width="0.4" fill="#030303">0.15</text>
<line x1="960.00" y1="899.20" x2="967.00" y2="899.20" stroke="#030303" stroke-width="2.6" stroke-linecap="butt"/>
<text x="913.82" y="908.00" font-size="27.00" stroke="#030303" stroke-width="0.4" fill="#030303">0.2</text>
<line x1="960.00" y1="855.70" x2="967.00" y2="855.70" stroke="#030303" stroke-width="2.6" stroke-linecap="butt"/>
<text x="898.57" y="864.50" font-size="27.00" stroke="#030303" stroke-width="0.4" fill="#030303">0.25</text>
<line x1="960.00" y1="809.70" x2="967.00" y2="809.70" stroke="#030303" stroke-width="2.6" stroke-linecap="butt"/>
<text x="913.62" y="818.50" font-size="27.00" stroke="#030303" stroke-width="0.4" fill="#030303">0.3</text>
<line x1="960.00" y1="765.80" x2="967.00" y2="765.80" stroke="#030303" stroke-width="2.6" stroke-linecap="butt"/>
<text x="898.57" y="774.60" font-size="27.00" stroke="#030303" stroke-width="0.4" fill="#030303">0.35</text>
<line x1="967.00" y1="1078.80" x2="967.00" y2="1085.30" stroke="#030303" stroke-width="2.6" stroke-linecap="butt"/>
<text x="959.79" y="1111.30" font-size="27.30" stroke="#030303" stroke-width="0.4" fill="#030303">0</text>
<line x1="1038.40" y1="1078.80" x2="1038.40" y2="1085.30" stroke="#030303" stroke-width="2.6" stroke-linecap="butt"/>
<text x="1019.96" y="1111.30" font-size="27.30" stroke="#030303" stroke-width="0.4" fill="#030303">0.2</text>
<line x1="1111.30" y1="1078.80" x2="1111.30" y2="1085.30" stroke="#030303" stroke-width="2.6" stroke-linecap="butt"/>
<text x="1092.56" y="1111.30" font-size="27.30" stroke="#030303" stroke-width="0.4" fill="#030303">0.4</text>
<line x1="1182.80" y1="1078.80" x2="1182.80" y2="1085.30" stroke="#030303" stroke-width="2.6" stroke-linecap="butt"/>
<text x="1164.26" y="1111.30" font-size="27.30" stroke="#030303" stroke-width="0.4" fill="#030303">0.6</text>
<line x1="1253.60" y1="1078.80" x2="1253.60" y2="1085.30" stroke="#030303" stroke-width="2.6" stroke-linecap="butt"/>
<text x="1235.06" y="1111.30" font-size="27.30" stroke="#030303" stroke-width="0.4" fill="#030303">0.8</text>
<line x1="1325.30" y1="1078.80" x2="1325.30" y2="1085.30" stroke="#030303" stroke-width="2.6" stroke-linecap="butt"/>
<text x="1306.21" y="1111.30" font-size="27.30" stroke="#030303" stroke-width="0.4" fill="#030303">1.0</text>
<line x1="1398.00" y1="1078.80" x2="1398.00" y2="1085.30" stroke="#030303" stroke-width="2.6" stroke-linecap="butt"/>
<text x="1379.09" y="1111.30" font-size="27.30" stroke="#030303" stroke-width="0.4" fill="#030303">1.2</text>
<line x1="1469.80" y1="1078.80" x2="1469.80" y2="1085.30" stroke="#030303" stroke-width="2.6" stroke-linecap="butt"/>
<text x="1450.58" y="1111.30" font-size="27.30" stroke="#030303" stroke-width="0.4" fill="#030303">1.4</text>
<line x1="1541.00" y1="1078.80" x2="1541.00" y2="1085.30" stroke="#030303" stroke-width="2.6" stroke-linecap="butt"/>
<text x="1521.98" y="1111.30" font-size="27.30" stroke="#030303" stroke-width="0.4" fill="#030303">1.6</text>
<text x="1030.70" y="1160.20" font-size="31.65" font-weight="bold" fill="#030303">Concentration of AuNRs (nM)</text>
<text transform="translate(867.70,987.78) rotate(-90)" font-size="31.40" font-weight="bold" fill="#030303">OD value</text>
<line x1="1056.90" y1="1034.80" x2="1506.60" y2="799.60" stroke="#030303" stroke-width="2.9" stroke-linecap="butt"/>
<circle cx="1056.90" cy="1036.50" r="6.6" fill="#030303"/>
<circle cx="1145.50" cy="989.80" r="6.6" fill="#030303"/>
<circle cx="1326.50" cy="879.30" r="6.6" fill="#030303"/>
<circle cx="1507.40" cy="806.00" r="6.6" fill="#030303"/>
<text x="983.59" y="1017.90" font-size="22.70" stroke="#030303" stroke-width="0.4" fill="#030303">46.4</text>
<text x="1036.90" y="1009.70" font-size="14.60" stroke="#030303" stroke-width="0.4" fill="#030303">o</text>
<text x="1048.29" y="1017.90" font-size="22.50" stroke="#030303" stroke-width="0.4" fill="#030303">C</text>
<text x="1073.69" y="973.40" font-size="22.70" stroke="#030303" stroke-width="0.4" fill="#030303">55.2</text>
<text x="1126.49" y="965.20" font-size="14.60" stroke="#030303" stroke-width="0.4" fill="#030303">o</text>
<text x="1137.88" y="973.40" font-size="22.50" stroke="#030303" stroke-width="0.4" fill="#030303">C</text>
<text x="1253.37" y="860.70" font-size="22.70" stroke="#030303" stroke-width="0.4" fill="#030303">63.1</text>
<text x="1306.22" y="852.50" font-size="14.60" stroke="#030303" stroke-width="0.4" fill="#030303">o</text>
<text x="1317.61" y="860.70" font-size="22.50" stroke="#030303" stroke-width="0.4" fill="#030303">C</text>
<text x="1435.77" y="788.70" font-size="22.70" stroke="#030303" stroke-width="0.4" fill="#030303">67.2</text>
<text x="1488.56" y="780.50" font-size="14.60" stroke="#030303" stroke-width="0.4" fill="#030303">o</text>
<text x="1499.96" y="788.70" font-size="22.50" stroke="#030303" stroke-width="0.4" fill="#030303">C</text>
<text x="1449.15" y="866.30" font-size="22.40" stroke="#030303" stroke-width="0.4" fill="#030303">R</text>
<text x="1467.00" y="858.20" font-size="14.00" stroke="#030303" stroke-width="0.4" fill="#030303">2</text>
<text x="1479.28" y="866.30" font-size="22.40" stroke="#030303" stroke-width="0.4" fill="#030303">=0.99211</text>
</svg></body></html>
